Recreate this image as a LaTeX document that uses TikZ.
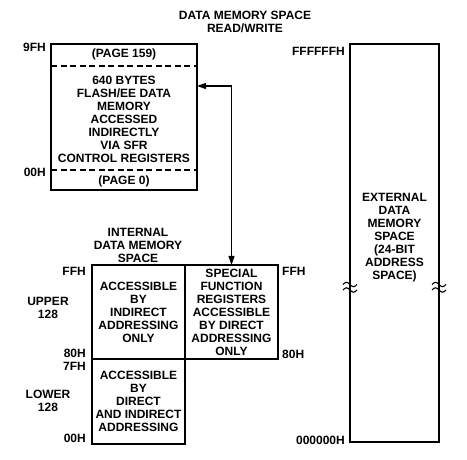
\documentclass[tikz,border=0pt]{standalone}
\usepackage{fontspec}
\setmainfont{Liberation Sans}
\usetikzlibrary{arrows.meta}
\usetikzlibrary{positioning}

\begin{document}
\begin{tikzpicture}[
  x=1pt, y=-1pt,
  membox/.style={rectangle, draw=black, line width=1.3pt, inner sep=0pt,
    outer sep=0pt, align=center, font=\fontsize{12}{13}\selectfont\bfseries},
  txt/.style={align=center, inner sep=0pt,
    font=\fontsize{12}{13}\selectfont\bfseries},
  addr/.style={inner sep=0pt, font=\fontsize{12}{13}\selectfont\bfseries},
  pagesep/.style={draw=black, line width=1.3pt, dash pattern=on 6pt off 3.5pt},
  arrow/.style={{Triangle[length=9pt,width=6pt]}-{Triangle[length=9pt,width=6pt]},
    line width=1.2pt, draw=black},
  brk/.style={draw=black, line width=1.1pt},
]
\useasboundingbox (0,0) rectangle (467,460);

% === Title ===
\node[txt] (title) at (245,22) {DATA MEMORY SPACE\\READ/WRITE};

% === Flash/EE data memory ===
\node[membox, minimum width=146pt, minimum height=146pt] (flash) at (124,117) {};
\draw[pagesep] (flash.west |- 0,66) -- (flash.east |- 0,66);
\draw[pagesep] (flash.west |- 0,170) -- (flash.east |- 0,170);
\node[txt] (page159) at (124,54) {(PAGE 159)};
\node[txt] (flashtxt) at (124,119) {640 BYTES\\FLASH/EE DATA\\MEMORY\\ACCESSED\\INDIRECTLY\\VIA SFR\\CONTROL REGISTERS};
\node[txt] (page0) at (124,181) {(PAGE 0)};
\node[addr, anchor=east] (a9f) at (46,47) {9FH};
\node[addr, anchor=east] (a00f) at (46,172) {00H};

% === Internal data memory ===
\node[txt] (intlbl) at (138,245) {INTERNAL\\DATA MEMORY\\SPACE};
\node[membox, minimum width=93pt, minimum height=94pt] (upper) at (138.5,312)
  {ACCESSIBLE\\BY\\INDIRECT\\ADDRESSING\\ONLY};
\node[membox, minimum width=93pt, minimum height=94pt, right=0pt of upper] (sfr)
  {SPECIAL\\FUNCTION\\REGISTERS\\ACCESSIBLE\\BY DIRECT\\ADDRESSING\\ONLY};
\node[membox, minimum width=93pt, minimum height=85pt, below=0pt of upper] (lower)
  {ACCESSIBLE\\BY\\DIRECT\\AND INDIRECT\\ADDRESSING};

\node[addr, anchor=east] (affl) at (86,271) {FFH};
\node[addr, anchor=east] (a80l) at (86,353) {80H};
\node[addr, anchor=east] (a7fl) at (86,366) {7FH};
\node[addr, anchor=east] (a00l) at (86,438) {00H};
\node[txt] (upperlbl) at (48,308) {UPPER\\128};
\node[txt] (lowerlbl) at (48,401) {LOWER\\128};
\node[addr, anchor=west] (affr) at (282,271) {FFH};
\node[addr, anchor=west] (a80r) at (282,354) {80H};

% === External data memory ===
\node[membox, minimum width=89pt, minimum height=398pt] (ext) at (394.5,243) {};
\node[txt] (exttxt) at (394.5,238) {EXTERNAL\\DATA\\MEMORY\\SPACE\\(24-BIT\\ADDRESS\\SPACE)};
\node[addr, anchor=east] (affffff) at (345,51) {FFFFFFH};
\node[addr, anchor=east] (a000000) at (345,440) {000000H};

% break marks
\foreach \side in {west,east}
  \foreach \yy in {284.5,290}
    \draw[brk] ([xshift=-7pt]ext.\side |- 0,\yy) sin ++(3.5,-2.2) cos ++(3.5,2.2)
      sin ++(3.5,2.2) cos ++(3.5,-2.2);

% === Arrow ===
\draw[arrow] ([yshift=31pt]flash.east) -| (sfr.north);

\end{tikzpicture}
\end{document}
